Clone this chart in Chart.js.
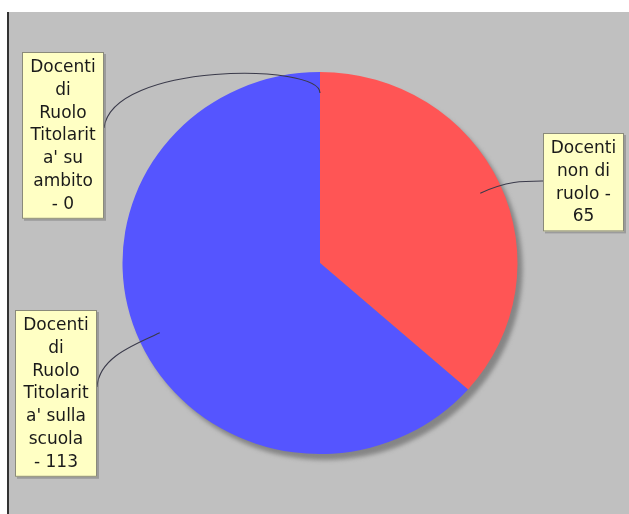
<!DOCTYPE html>
<html>
<head>
<meta charset="utf-8">
<script src="https://cdn.jsdelivr.net/npm/chart.js@4"></script>
<style>
html,body{margin:0;padding:0;background:#fff;}
canvas{display:block;}
</style>
</head>
<body>
<canvas id="c" width="629" height="514"></canvas>
<script>
const categories = [
  "Docenti non di ruolo",
  "Docenti di Ruolo Titolarita' sulla scuola",
  "Docenti di Ruolo Titolarita' su ambito"
];
const values = [65, 113, 0];
const sliceColors = ['#FF5555', '#5555FF', '#55FF55'];
// wrapped label text, as shown in the label boxes
const labelLines = [
  ["Docenti", "non di", "ruolo -", "65"],
  ["Docenti", "di", "Ruolo", "Titolarit", "a' sulla", "scuola", "- 113"],
  ["Docenti", "di", "Ruolo", "Titolarit", "a' su", "ambito", "- 0"]
];

// layout of label boxes (left, top, width) and link attach points
const boxes = [
  {x: 543, y: 133, w: 81, ax: 543, ay: 181, cx: 523, cy: 181},
  {x: 15,  y: 310, w: 82, ax: 97,  ay: 387, cx: 99,  cy: 358},
  {x: 22,  y: 52,  w: 82, ax: 104, ay: 128, cx: 112, cy: 62}
];
const SX = 197.5 / 191; // horizontal stretch of the pie

const bgPlugin = {
  id: 'bg',
  beforeDraw(chart) {
    const ctx = chart.ctx;
    ctx.save();
    ctx.fillStyle = '#ffffff';
    ctx.fillRect(0, 0, chart.width, chart.height);
    ctx.fillStyle = '#C0C0C0';
    ctx.fillRect(8, 12, chart.width - 8, chart.height - 12);
    ctx.fillStyle = '#333333';
    ctx.fillRect(7, 12, 2, chart.height - 12);
    ctx.restore();
  },
  beforeDatasetsDraw(chart) {
    const ctx = chart.ctx;
    const arc = chart.getDatasetMeta(0).data[0];
    const cx = arc.x, cy = arc.y, r = arc.outerRadius;
    ctx.save();
    ctx.translate(cx, cy);
    ctx.scale(SX, 1);
    ctx.translate(-cx, -cy);
    // shadow
    ctx.save();
    ctx.filter = 'blur(2px)';
    ctx.fillStyle = '#858585';
    ctx.beginPath();
    ctx.arc(cx + 5 / SX, cy + 6, r, 0, Math.PI * 2);
    ctx.fill();
    ctx.restore();
  },
  afterDatasetsDraw(chart) {
    const ctx = chart.ctx;
    ctx.restore();
    const meta = chart.getDatasetMeta(0);
    // leader lines
    meta.data.forEach((a, i) => {
      const b = boxes[i];
      const mid = (a.startAngle + a.endAngle) / 2;
      const r = a.outerRadius;
      const p0x = a.x + 0.89 * r * SX * Math.cos(mid);
      const p0y = a.y + 0.89 * r * Math.sin(mid);
      const p1x = p0x + 30 * Math.cos(mid);
      const p1y = p0y + 30 * Math.sin(mid);
      ctx.save();
      ctx.strokeStyle = '#3a3a4a';
      ctx.lineWidth = 1.1;
      ctx.beginPath();
      ctx.moveTo(p0x, p0y);
      ctx.bezierCurveTo(p1x, p1y, b.cx, b.cy, b.ax, b.ay);
      ctx.stroke();
      ctx.restore();
    });
    // label boxes
    ctx.save();
    ctx.font = '17px "DejaVu Sans", sans-serif';
    ctx.textAlign = 'center';
    ctx.textBaseline = 'alphabetic';
    labelLines.forEach((lines, i) => {
      const b = boxes[i];
      const h = 20 + (lines.length - 1) * 22.8 + 10;
      ctx.fillStyle = 'rgba(110,110,110,0.45)';
      ctx.fillRect(b.x + 2, b.y + 2, b.w, h);
      ctx.fillStyle = '#FFFFC4';
      ctx.fillRect(b.x, b.y, b.w, h);
      ctx.strokeStyle = '#8a8a7a';
      ctx.lineWidth = 1;
      ctx.strokeRect(b.x + 0.5, b.y + 0.5, b.w - 1, h - 1);
      ctx.fillStyle = '#1a1a1a';
      lines.forEach((t, k) => {
        ctx.fillText(t, b.x + b.w / 2, b.y + 20 + k * 22.8);
      });
    });
    ctx.restore();
  }
};

new Chart(document.getElementById('c'), {
  type: 'pie',
  data: {
    labels: categories,
    datasets: [{
      data: values,
      backgroundColor: sliceColors,
      borderWidth: 0,
      hoverOffset: 0
    }]
  },
  options: {
    responsive: false,
    animation: false,
    radius: 191,
    layout: {padding: {left: 120, right: 109, top: 63, bottom: 51}},
    plugins: {legend: {display: false}, tooltip: {enabled: false}}
  },
  plugins: [bgPlugin]
});
</script>
</body>
</html>
